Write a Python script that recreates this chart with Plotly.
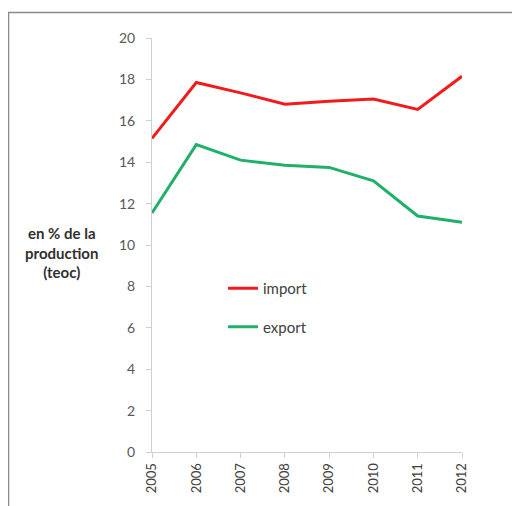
import plotly.graph_objects as go

years = [2005, 2006, 2007, 2008, 2009, 2010, 2011, 2012]
import_vals = [15.15, 17.85, 17.35, 16.8, 16.95, 17.05, 16.55, 18.15]
export_vals = [11.55, 14.85, 14.1, 13.85, 13.75, 13.1, 11.4, 11.1]
y_ticks = [0, 2, 4, 6, 8, 10, 12, 14, 16, 18, 20]

fig = go.Figure()
fig.add_trace(go.Scatter(x=years, y=import_vals, mode="lines", name="import",
                         line=dict(color="#f01c1c", width=3), legendgroup="a"))
fig.add_trace(go.Scatter(x=years, y=export_vals, mode="lines", name="export",
                         line=dict(color="#20b06a", width=3), legendgroup="b"))

OFF = 8  # page body margin
W, H = 520 - OFF, 506 - OFF
L, T = 152 - OFF, 38 - OFF
R = W - (462 - OFF)
B = H - (452 - OFF)
pw, ph = W - L - R, H - T - B

def px(x):
    return (x - OFF - L) / pw

def py(y):
    return (H - B - (y - OFF)) / ph

fig.update_layout(
    width=W, height=H,
    margin=dict(l=L, r=R, t=T, b=B),
    paper_bgcolor="white", plot_bgcolor="white",
    font=dict(family="Lato, Open Sans, sans-serif", size=13, color="#595959"),
    showlegend=True,
    legend=dict(x=px(223), y=py(272), xanchor="left", yanchor="top",
                bgcolor="rgba(0,0,0,0)", font=dict(size=15, color="#404040"),
                tracegroupgap=16, traceorder="grouped"),
    xaxis=dict(range=[2005, 2012], tickmode="array", tickvals=years,
               ticktext=[str(y) for y in years], tickangle=-90,
               showgrid=False, zeroline=False, showline=True, linecolor="#d0d0d0",
               linewidth=1, ticks="outside", ticklen=5, tickcolor="#d0d0d0",
               tickfont=dict(size=13, color="#404040")),
    yaxis=dict(range=[0, 20], tickmode="array", tickvals=y_ticks,
               showgrid=False, zeroline=False, showline=True, linecolor="#d0d0d0",
               linewidth=1, ticks="outside", ticklen=5, tickcolor="#d0d0d0",
               ticklabelstandoff=8,
               tickfont=dict(size=14, color="#595959")),
)

fig.add_annotation(text="<b>en % de la<br>production<br>(teoc)</b>",
                   xref="paper", yref="paper", x=px(61), y=py(252),
                   xanchor="center", yanchor="middle",
                   showarrow=False, font=dict(size=15, color="#303030"),
                   align="center")

fig.add_shape(type="rect", xref="paper", yref="paper",
              x0=px(8.5), y0=py(560), x1=px(580), y1=py(12.5),
              line=dict(color="#8a8a8a", width=1.5), fillcolor="rgba(0,0,0,0)",
              layer="below")

fig.write_html("out.html")
